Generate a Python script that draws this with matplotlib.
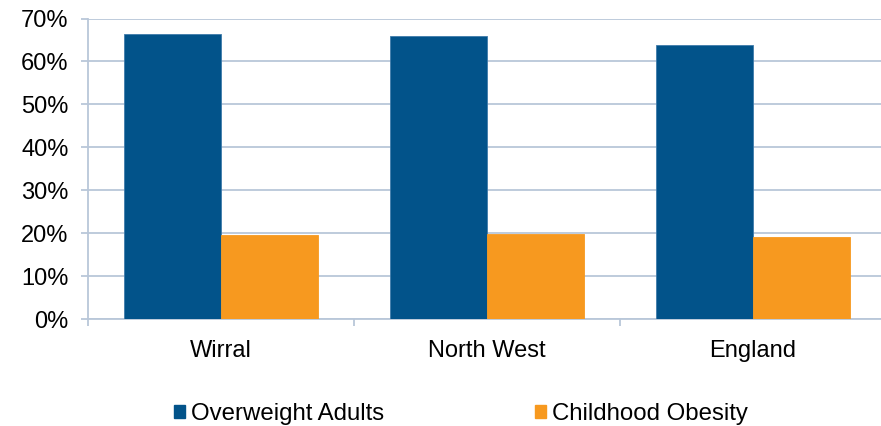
import numpy as np
import matplotlib
matplotlib.use("Agg")
import matplotlib.pyplot as plt
from matplotlib.patches import Patch
from matplotlib.ticker import FuncFormatter

# values
areas = ["Wirral", "North West", "England"]
overweight_adults = [0.665, 0.660, 0.638]
childhood_obesity = [0.196, 0.197, 0.192]
series_names = ["Overweight Adults", "Childhood Obesity"]

blue = "#02538A"
orange = "#F7991F"
grid_col = "#B9C7D9"

plt.rcParams['font.family'] = ['Liberation Sans', 'DejaVu Sans']

fig = plt.figure(figsize=(8.81, 4.26), dpi=100)
ax = fig.add_axes([88/881, 1 - 319/426, 798/881, (319 - 18.5)/426])

x = np.arange(len(areas))
w = 0.363
ax.bar(x - w/2, overweight_adults, w, color=blue, edgecolor="#3F7BAA", linewidth=0.6, zorder=3)
ax.bar(x + w/2, childhood_obesity, w, color=orange, edgecolor=orange, linewidth=0.6, zorder=3)

ax.set_xlim(-0.5, len(areas) - 0.5)
ax.set_ylim(0, 0.7)
ax.set_yticks(np.arange(0, 0.71, 0.1))
ax.yaxis.set_major_formatter(FuncFormatter(lambda v, p: f"{v*100:.0f}%"))
ax.grid(axis='y', color=grid_col, linewidth=1.3, zorder=0)

# category boundary ticks, labels at centres
ax.set_xticks(np.arange(-0.5, len(areas), 1.0))
ax.set_xticklabels([])
ax.set_xticks(x, minor=True)
ax.set_xticklabels(areas, minor=True)
ax.tick_params(axis='x', which='major', direction='out', length=5, color=grid_col, width=1.3)
ax.tick_params(axis='x', which='minor', length=0, pad=15, labelsize=17)
ax.tick_params(axis='y', direction='out', length=5, color=grid_col, width=1.3, pad=9, labelsize=17)

for s in ['top', 'right']:
    ax.spines[s].set_visible(False)
for s in ['left', 'bottom']:
    ax.spines[s].set_color(grid_col)
    ax.spines[s].set_linewidth(1.3)

handles = [Patch(color=blue), Patch(color=orange)]
fig.legend(handles, series_names, loc='center', bbox_to_anchor=(461/881, 1 - 414/426),
           ncol=2, frameon=False, fontsize=17.3, handlelength=0.46, handleheight=0.46,
           handletextpad=0.25, columnspacing=6.3)

fig.savefig("out.png", dpi=100)
